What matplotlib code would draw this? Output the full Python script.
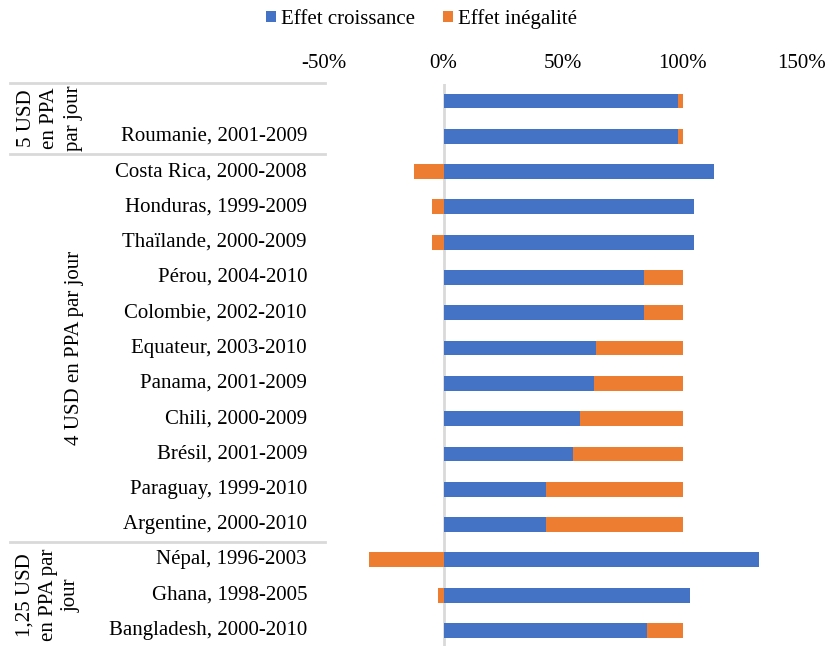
import numpy as np
import matplotlib.pyplot as plt
import matplotlib.transforms as mtransforms
from matplotlib.lines import Line2D

plt.rcParams['font.family'] = ['Liberation Serif', 'DejaVu Serif']

# donnees (en %)
pays = ['', 'Roumanie, 2001-2009', 'Costa Rica, 2000-2008', 'Honduras, 1999-2009',
        'Thaïlande, 2000-2009', 'Pérou, 2004-2010', 'Colombie, 2002-2010',
        'Equateur, 2003-2010', 'Panama, 2001-2009', 'Chili, 2000-2009',
        'Brésil, 2001-2009', 'Paraguay, 1999-2010', 'Argentine, 2000-2010',
        'Népal, 1996-2003', 'Ghana, 1998-2005', 'Bangladesh, 2000-2010']
croissance = [98, 98, 113, 105, 105, 84, 84, 64, 63, 57, 54, 43, 43, 132, 103, 85]
inegalite = [2, 2, -12.5, -5, -5, 16, 16, 36, 37, 43, 46, 57, 57, -31, -2.5, 15]
xticks = [-50, 0, 50, 100, 150]
groupes = ['5 USD\nen PPA\npar jour', '4 USD en PPA par jour', '1,25 USD\nen PPA par\njour']

bleu = '#4472C4'
orange = '#ED7D31'
gris = '#D9D9D9'
fs = 15

fig = plt.figure(figsize=(8.27, 6.46), dpi=100)
ax = fig.add_axes([324 / 827, 0, 478 / 827, 562 / 646])

y = np.arange(len(pays))
croissance = np.array(croissance, dtype=float)
inegalite = np.array(inegalite, dtype=float)
# la barre orange s'empile apres la bleue si positive, sinon part de zero vers la gauche
gauche = np.where(inegalite > 0, croissance, 0)

ax.barh(y, croissance, height=0.42, color=bleu, label='Effet croissance', zorder=2)
ax.barh(y, inegalite, left=gauche, height=0.42, color=orange, label='Effet inégalité', zorder=2)

ax.set_xlim(-50, 150)
ax.set_ylim(15.44, -0.48)
ax.axvline(0, color=gris, lw=2, zorder=1)

ax.xaxis.tick_top()
ax.set_xticks(xticks)
ax.set_xticklabels([f'{v}%' for v in xticks], fontsize=fs)
ax.tick_params(axis='x', length=0, pad=8)
ax.set_yticks([])
for s in ax.spines.values():
    s.set_visible(False)

# etiquettes des pays
trans = mtransforms.blended_transform_factory(fig.transFigure, ax.transData)
for yi, nom in zip(y, pays):
    fig.text(307 / 827, yi, nom, transform=trans, ha='right', va='center', fontsize=fs)

# separateurs des groupes
for yl in [-0.5, 1.5, 12.5]:
    fig.add_artist(Line2D([10 / 827, 325 / 827], [yl, yl], transform=trans,
                          color=gris, lw=2))

# libelles des groupes
fig.text(50 / 827, 0.5, groupes[0], transform=trans, rotation=90, ha='center',
         va='center', fontsize=fs, linespacing=1.3)
fig.text(74 / 827, 7.0, groupes[1], transform=trans, rotation=90, ha='center',
         va='center', fontsize=fs)
fig.text(48 / 827, 14.0, groupes[2], transform=trans, rotation=90, ha='center',
         va='center', fontsize=fs, linespacing=1.3)

fig.legend(loc='center', bbox_to_anchor=(0.5097, 1 - 19 / 646), ncol=2, frameon=False,
           fontsize=fs, handlelength=0.48, handleheight=0.48, handletextpad=0.25,
           columnspacing=1.3)

fig.savefig('out.png', dpi=100)
